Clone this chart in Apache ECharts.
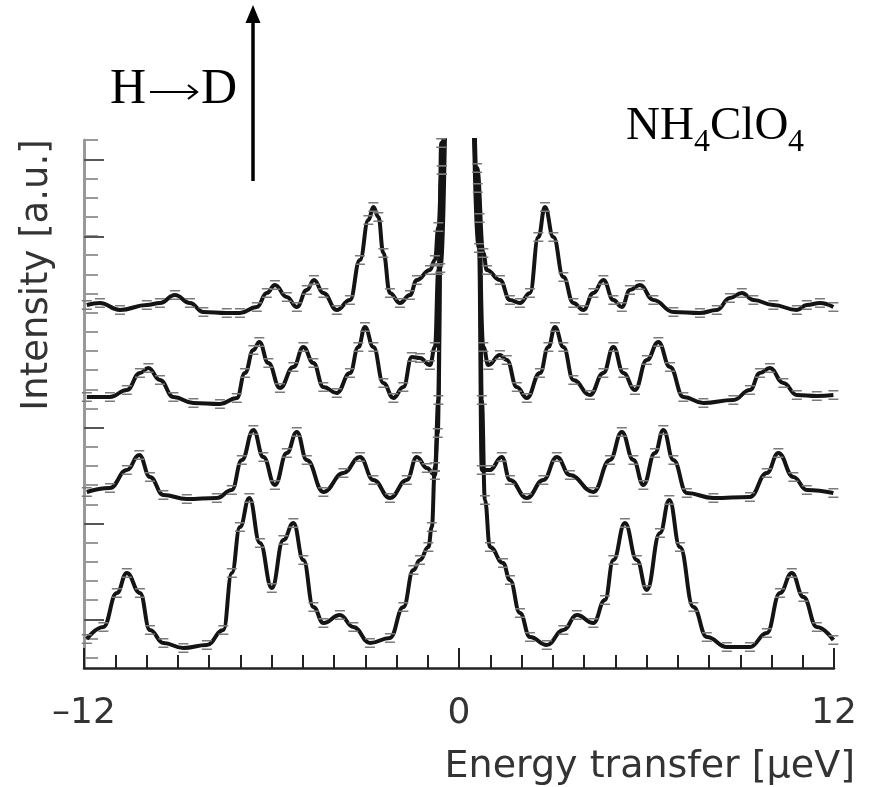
<!DOCTYPE html>
<html lang="en">

<head>
    <meta charset="UTF-8">
    <title>NH4ClO4 tunnelling spectra</title>
    <style>
        html, body { margin: 0; padding: 0; background: #fff; }
    </style>
</head>

<body>
    <div id="chart" style="width:874px;height:787px;"></div>
</body>
<script src="https://cdn.jsdelivr.net/npm/echarts@6.0.0/dist/echarts.min.js"></script>
<script>
    // x: energy transfer (ueV), y: intensity (a.u., offset spectra)
    // central elastic line runs off the top of the frame
    var spectrumA = [
        [-11.91, 363], [-11.49, 365], [-10.85, 358], [-9.99, 363], [-9.57, 365], [-9.09, 373],
        [-8.61, 365], [-8.18, 356], [-7.43, 355], [-7.01, 355], [-6.47, 361], [-6.15, 375],
        [-5.89, 383], [-5.51, 371], [-5.19, 361], [-4.87, 378], [-4.64, 388], [-4.34, 375],
        [-3.91, 358], [-3.49, 368], [-3.17, 408], [-2.90, 448], [-2.74, 461], [-2.58, 451],
        [-2.42, 415], [-2.21, 375], [-1.89, 365], [-1.57, 373], [-1.35, 388], [-0.93, 398],
        [-0.77, 408], [-0.66, 441], [-0.55, 498], [-0.25, 750],
        [0.25, 750], [0.58, 500], [0.78, 415], [0.89, 398], [1.31, 388], [1.63, 368],
        [1.95, 365], [2.27, 375], [2.54, 431], [2.75, 461], [3.02, 431], [3.34, 391],
        [3.66, 365], [3.98, 358], [4.30, 375], [4.62, 388], [4.94, 368], [5.21, 361],
        [5.47, 378], [5.79, 383], [6.22, 368], [6.86, 356], [7.71, 355], [8.25, 358],
        [8.67, 370], [9.05, 375], [9.42, 368], [10.06, 363], [10.81, 358], [11.13, 363],
        [11.55, 365], [11.98, 361]
    ];
    var spectrumB = [
        [-11.91, 271], [-11.17, 271], [-10.63, 278], [-10.21, 295], [-9.94, 300], [-9.57, 288],
        [-9.14, 271], [-8.50, 265], [-7.65, 264], [-7.11, 270], [-6.85, 295], [-6.58, 318],
        [-6.39, 326], [-6.10, 305], [-5.73, 280], [-5.30, 301], [-4.98, 321], [-4.66, 305],
        [-4.34, 281], [-3.91, 275], [-3.49, 295], [-3.22, 321], [-3.01, 341], [-2.74, 321],
        [-2.42, 285], [-2.10, 270], [-1.78, 281], [-1.51, 311], [-1.25, 310], [-0.93, 303],
        [-0.77, 321], [-0.66, 398], [-0.55, 498], [-0.25, 750],
        [0.25, 750], [0.60, 480], [0.78, 321], [0.94, 303], [1.31, 313], [1.53, 308],
        [1.85, 281], [2.17, 270], [2.59, 295], [2.86, 321], [3.07, 341], [3.34, 321],
        [3.66, 288], [4.19, 273], [4.62, 295], [4.94, 321], [5.26, 295], [5.63, 278],
        [6.01, 308], [6.38, 326], [6.75, 301], [7.18, 271], [7.82, 265], [8.78, 268],
        [9.31, 278], [9.63, 295], [9.95, 300], [10.38, 285], [10.81, 273], [11.45, 272],
        [11.98, 273]
    ];
    var spectrumC = [
        [-11.91, 176], [-11.17, 180], [-10.63, 198], [-10.23, 213], [-9.89, 191], [-9.46, 173],
        [-8.71, 169], [-7.75, 170], [-7.27, 178], [-6.95, 208], [-6.58, 238], [-6.26, 211],
        [-5.89, 183], [-5.51, 215], [-5.19, 236], [-4.87, 208], [-4.34, 176], [-3.70, 195],
        [-3.17, 211], [-2.74, 188], [-2.21, 170], [-1.67, 188], [-1.35, 211], [-1.03, 200],
        [-0.77, 193], [-0.68, 235], [-0.60, 400], [-0.25, 750],
        [0.25, 750], [0.64, 420], [0.73, 198], [0.99, 198], [1.37, 211], [1.63, 188],
        [2.17, 170], [2.70, 188], [3.13, 211], [3.55, 193], [4.30, 176], [4.83, 208],
        [5.21, 236], [5.58, 208], [5.90, 183], [6.27, 215], [6.54, 238], [6.86, 208],
        [7.29, 175], [8.14, 170], [9.31, 171], [9.85, 195], [10.22, 215], [10.70, 191],
        [11.13, 178], [11.98, 175]
    ];
    var spectrumD = [
        [-11.91, 29], [-11.38, 41], [-10.95, 75], [-10.63, 95], [-10.21, 75], [-9.89, 38],
        [-9.46, 25], [-8.82, 20], [-8.07, 23], [-7.54, 38], [-7.27, 95], [-7.01, 141],
        [-6.71, 170], [-6.37, 125], [-5.99, 80], [-5.62, 128], [-5.30, 145], [-4.98, 108],
        [-4.66, 61], [-4.34, 45], [-3.81, 53], [-3.38, 41], [-2.85, 25], [-2.21, 30],
        [-1.78, 61], [-1.46, 98], [-1.25, 108], [-0.98, 121], [-0.87, 141], [-0.77, 201],
        [-0.66, 268], [-0.57, 525], [-0.25, 750],
        [0.25, 750], [0.66, 450], [0.73, 268], [0.83, 168], [0.99, 121], [1.41, 105],
        [1.63, 88], [1.95, 55], [2.27, 31], [2.81, 23], [3.34, 38], [3.77, 53],
        [4.30, 45], [4.67, 68], [4.94, 108], [5.31, 145], [5.69, 108], [6.01, 78],
        [6.43, 135], [6.73, 168], [7.07, 121], [7.50, 61], [7.93, 31], [8.57, 21],
        [9.31, 21], [9.85, 35], [10.27, 75], [10.65, 95], [11.02, 71], [11.45, 41],
        [11.98, 28]
    ];
    var spectra = [spectrumA, spectrumB, spectrumC, spectrumD];

    var xLabels = { '-12': '\u201312', '0': '0', '12': '12' };

    // left axis: gray ticks every 19.17 px, first one 10.3 px above the x axis
    var yTicks = [];
    for (var k = 0; k < 28; k++) {
        yTicks.push(10.3 + k * 19.17);
    }
    var yLongTicks = [48.7, 144.7, 240, 431.3, 508];

    var sansFont = 'DejaVu Sans';
    var serifFont = 'Liberation Serif';

    // error bar caps drawn as two short dashes
    var errSymbol = 'path://M0,0H10V1.4H0Z M0,8.6H10V10H0Z';

    var series = spectra.map(function (data) {
        return {
            type: 'line',
            data: data,
            smooth: 0.45,
            smoothMonotone: 'x',
            symbol: errSymbol,
            symbolSize: [10, 10],
            showSymbol: true,
            itemStyle: { color: '#7a7a7a' },
            lineStyle: { color: '#141414', width: 4 },
            clip: true,
            silent: true,
            animation: false
        };
    });

    var option = {
        backgroundColor: '#fff',
        animation: false,
        grid: { left: 84, right: 40, top: 140, bottom: 119 },
        xAxis: {
            type: 'value',
            min: -12,
            max: 12,
            interval: 12,
            axisLine: { onZero: false, lineStyle: { color: '#222', width: 2.5 } },
            axisTick: { inside: true, length: 20, lineStyle: { color: '#222', width: 2 } },
            minorTick: { show: true, splitNumber: 12, length: 13, lineStyle: { color: '#222', width: 2 } },
            axisLabel: {
                margin: 28,
                fontFamily: sansFont,
                fontSize: 36,
                color: '#333',
                customValues: [-12, 0, 12],
                formatter: function (v) { return xLabels[String(v)]; }
            },
            splitLine: { show: false }
        },
        yAxis: [{
            type: 'value',
            min: 0,
            max: 528,
            axisLine: { show: true, onZero: false, lineStyle: { color: '#999', width: 3 } },
            axisTick: { show: true, inside: true, length: 14, customValues: yTicks, lineStyle: { color: '#999', width: 2 } },
            axisLabel: { show: false },
            splitLine: { show: false }
        }, {
            type: 'value',
            min: 0,
            max: 528,
            position: 'left',
            axisLine: { show: false, onZero: false },
            axisTick: { show: true, inside: true, length: 20, customValues: yLongTicks, lineStyle: { color: '#555', width: 2 } },
            axisLabel: { show: false },
            splitLine: { show: false }
        }],
        series: series,
        graphic: [
            {
                type: 'text', x: 37, y: 275, rotation: Math.PI / 2,
                style: { text: 'Intensity [a.u.]', font: '37px "' + sansFont + '"', fill: '#333', align: 'center', verticalAlign: 'middle' }
            },
            {
                type: 'text', x: 855, y: 767,
                style: { text: 'Energy transfer [\u03bceV]', font: '38px "' + sansFont + '"', fill: '#333', align: 'right', verticalAlign: 'middle' }
            },
            // H -> D with a drawn arrow between the letters
            {
                type: 'text', x: 110, y: 90,
                style: { text: 'H', font: '50px "' + serifFont + '"', fill: '#000', align: 'left', verticalAlign: 'middle' }
            },
            {
                type: 'line',
                shape: { x1: 150, y1: 92, x2: 196, y2: 92 },
                style: { stroke: '#000', lineWidth: 2.2 }
            },
            {
                type: 'polyline',
                shape: { points: [[188, 85], [197, 92], [188, 99]] },
                style: { stroke: '#000', lineWidth: 2.2, fill: null }
            },
            {
                type: 'text', x: 201, y: 90,
                style: { text: 'D', font: '50px "' + serifFont + '"', fill: '#000', align: 'left', verticalAlign: 'middle' }
            },
            // vertical arrow
            {
                type: 'line',
                shape: { x1: 253, y1: 181, x2: 253, y2: 20 },
                style: { stroke: '#000', lineWidth: 3.5 }
            },
            {
                type: 'polygon',
                shape: { points: [[253, 5], [245.5, 23], [260.5, 23]] },
                style: { fill: '#000' }
            },
            // NH4ClO4
            {
                type: 'text', x: 626, y: 127,
                style: { text: 'NH', font: '47px "' + serifFont + '"', fill: '#000', verticalAlign: 'middle' }
            },
            {
                type: 'text', x: 694, y: 143,
                style: { text: '4', font: '32px "' + serifFont + '"', fill: '#000', verticalAlign: 'middle' }
            },
            {
                type: 'text', x: 710, y: 127,
                style: { text: 'ClO', font: '47px "' + serifFont + '"', fill: '#000', verticalAlign: 'middle' }
            },
            {
                type: 'text', x: 788, y: 143,
                style: { text: '4', font: '32px "' + serifFont + '"', fill: '#000', verticalAlign: 'middle' }
            }
        ]
    };

    var chart = echarts.init(document.getElementById('chart'));
    chart.setOption(option);
</script>

</html>
